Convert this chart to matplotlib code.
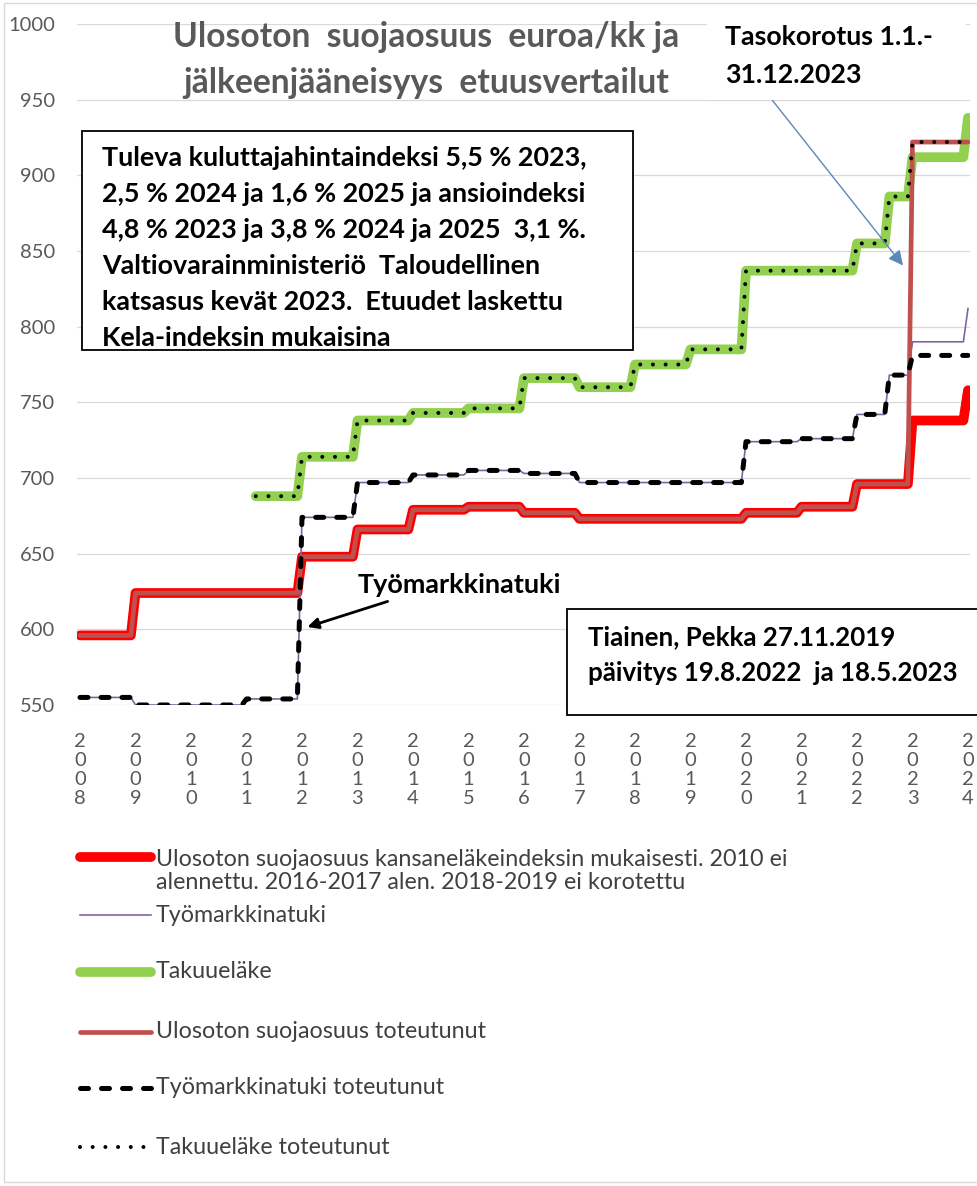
import matplotlib
matplotlib.use("Agg")
import matplotlib.pyplot as plt
from matplotlib.lines import Line2D
from matplotlib.patches import Rectangle

plt.rcParams['font.family'] = ['Lato', 'DejaVu Sans']

W, H = 978, 1186

# ---------------- data ----------------
years = list(range(2008, 2025))
x_ticklabels = ["\n".join(str(y)) for y in years]
y_ticks = [550, 600, 650, 700, 750, 800, 850, 900, 950, 1000]

# step series: dates where a new level starts, and the level (euro / month)
suoja_index_dates = [2008, 2009, 2012, 2013, 2014, 2015, 2016, 2017, 2020, 2021, 2022, 2023, 2024]
suoja_index_vals = [596, 624, 648, 666, 679, 681, 677, 673, 677, 681, 696, 738, 758]

suoja_real_dates = [2008, 2009, 2012, 2013, 2014, 2015, 2016, 2017, 2020, 2021, 2022, 2023, 2024]
suoja_real_vals = [596, 624, 648, 666, 679, 681, 677, 673, 677, 681, 696, 922, 922]

tmt_dates = [2008, 2009, 2011, 2012, 2013, 2014, 2015, 2016, 2017, 2020, 2021, 2022, 2022.583, 2023, 2024]
tmt_vals = [555, 550, 554, 674, 697, 702, 705, 703, 697, 724, 726, 742, 768, 790, 812]
tmt_real_vals = [555, 550, 554, 674, 697, 702, 705, 703, 697, 724, 726, 742, 768, 781, 781]

takuu_dates = [2011.167, 2012, 2013, 2014, 2015, 2016, 2017, 2018, 2019, 2020, 2022, 2022.583, 2023, 2024]
takuu_vals = [688, 714, 738, 743, 746, 766, 760, 775, 785, 837, 855, 886, 912, 938]
takuu_real_vals = [688, 714, 738, 743, 746, 766, 760, 775, 785, 837, 855, 886, 922, 922]

labels = [
    "Ulosoton suojaosuus kansaneläkeindeksin mukaisesti. 2010 ei\nalennettu. 2016-2017 alen. 2018-2019 ei korotettu",
    "Työmarkkinatuki",
    "Takuueläke",
    "Ulosoton suojaosuus toteutunut",
    "Työmarkkinatuki toteutunut",
    "Takuueläke toteutunut",
]

title_lines = ["Ulosoton  suojaosuus  euroa/kk ja", "jälkeenjääneisyys  etuusvertailut"]
box1_lines = [
    "Tuleva kuluttajahintaindeksi 5,5 % 2023,",
    "2,5 % 2024 ja 1,6 % 2025 ja ansioindeksi",
    "4,8 % 2023 ja 3,8 % 2024 ja 2025  3,1 %.",
    "Valtiovarainministeriö  Taloudellinen",
    "katsasus kevät 2023.  Etuudet laskettu",
    "Kela-indeksin mukaisina",
]
box2_lines = ["Tiainen, Pekka 27.11.2019", "päivitys 19.8.2022  ja 18.5.2023"]
taso_lines = ["Tasokorotus 1.1.-", "31.12.2023"]
tmt_note = "Työmarkkinatuki"

# ---------------- helpers ----------------
RAMP = 1 / 12  # monthly data: a level change happens between two monthly points


def step_path(dates, vals):
    xs, ys = [dates[0]], [vals[0]]
    for d, v, pv in zip(dates[1:], vals[1:], vals[:-1]):
        xs += [d - RAMP, d]
        ys += [pv, v]
    return xs, ys


def fx(px):
    return px / W


def fy(py):
    return 1 - py / H


fig = plt.figure(figsize=(W / 100, H / 100), dpi=100)
fig.patch.set_facecolor('white')

# chart-area frame
fig.add_artist(Rectangle((fx(4), fy(1182)), fx(1000) - fx(4), fy(3) - fy(1182),
                         transform=fig.transFigure, fill=False, ec='#D9D9D9', lw=1.0, zorder=0))

ax = fig.add_axes([fx(77), fy(705), fx(970) - fx(77), fy(24) - fy(705)])
ax.set_xlim(2007.946, 2024.036)
ax.set_ylim(550, 1000)
for s in ax.spines.values():
    s.set_visible(False)
ax.set_yticks(y_ticks)
ax.set_yticklabels([str(v) for v in y_ticks])
ax.yaxis.grid(True, color='#D9D9D9', lw=0.9)
ax.set_axisbelow(True)
ax.tick_params(axis='y', length=0, pad=16, labelsize=14.5, labelcolor='#595959')
ax.set_xticks(years)
ax.set_xticklabels(x_ticklabels, linespacing=1.15)
ax.tick_params(axis='x', length=0, pad=20, labelsize=14.5, labelcolor='#595959')

styles = [
    dict(color='#FF0000', lw=7.0, solid_capstyle='round', solid_joinstyle='round', zorder=2),
    dict(color='#8064A2', lw=1.2, zorder=3),
    dict(color='#92D050', lw=7.0, solid_capstyle='round', solid_joinstyle='round', zorder=4),
    dict(color='#C0504D', lw=3.4, solid_capstyle='round', solid_joinstyle='round', zorder=5),
    dict(color='black', lw=3.6, linestyle=(0, (1.6, 2.6)), dash_capstyle='round', zorder=6),
    dict(color='black', lw=2.9, linestyle=(0, (0.001, 3.15)), dash_capstyle='round', zorder=7),
]

series = [
    (suoja_index_dates, suoja_index_vals),
    (tmt_dates, tmt_vals),
    (takuu_dates, takuu_vals),
    (suoja_real_dates, suoja_real_vals),
    (tmt_dates, tmt_real_vals),
    (takuu_dates, takuu_real_vals),
]
for (d, v), st, lab in zip(series, styles, labels):
    xs, ys = step_path(d, v)
    ax.plot(xs, ys, label=lab, **st)

# arrows
ax.annotate('', xy=(2022.86, 839), xytext=(2020.38, 954), annotation_clip=False,
            arrowprops=dict(arrowstyle='-|>', color='#5F86B8', lw=1.0, mutation_scale=22), zorder=9)
ax.annotate('', xy=(2012.05, 601), xytext=(2013.59, 619), annotation_clip=False,
            arrowprops=dict(arrowstyle='-|>', color='black', lw=2.0, mutation_scale=16), zorder=9)

# ---------------- text ----------------
renderer = fig.canvas.get_renderer()


def fit(texts, ref, target):
    w = ref.get_window_extent(renderer).width
    fs = ref.get_fontsize() * target / w
    for t in texts:
        t.set_fontsize(fs)


# white background of the "Tasokorotus" box
fig.add_artist(Rectangle((fx(707), fy(100)), fx(966) - fx(707), fy(8) - fy(100),
                         transform=fig.transFigure, fc='white', ec='none', zorder=5))

tt = [fig.text(fx(426), fy(y), s, ha='center', va='center', color='#595959',
               fontsize=20, fontweight='bold', zorder=10)
      for s, y in zip(title_lines, [37, 83])]
fit(tt, tt[0], 507)

# box 1
fig.add_artist(Rectangle((fx(82), fy(350)), fx(633) - fx(82), fy(131) - fy(350),
                         transform=fig.transFigure, fc='white', ec='black', lw=1.3, zorder=8))
b1 = [fig.text(fx(102), fy(y), s, ha='left', va='center', color='black',
               fontsize=18, fontweight='bold', zorder=10)
      for s, y in zip(box1_lines, [158, 194, 230, 266, 302, 338])]
fit(b1, b1[0], 488)

# box 2
fig.add_artist(Rectangle((fx(567), fy(715)), fx(990) - fx(567), fy(609) - fy(715),
                         transform=fig.transFigure, fc='white', ec='black', lw=1.3, zorder=8))
b2 = [fig.text(fx(588), fy(y), s, ha='left', va='center', color='black',
               fontsize=18, fontweight='bold', zorder=10)
      for s, y in zip(box2_lines, [637, 673])]
fit(b2, b2[1], 370)

ts = [fig.text(fx(725), fy(y), s, ha='left', va='center', color='black',
               fontsize=16, fontweight='bold', zorder=10)
      for s, y in zip(taso_lines, [37, 75])]
fit(ts, ts[0], 210)

tm = fig.text(fx(358), fy(585), tmt_note, ha='left', va='center', color='black',
              fontsize=16, fontweight='bold', zorder=10)
fit([tm], tm, 204)

# ---------------- legend (drawn below the plot) ----------------
row_y = [857, 915, 972, 1032, 1088, 1147]
leg_texts = []
for lab, st, y in zip(labels, styles, row_y):
    kw = {k: v for k, v in st.items() if k != 'zorder'}
    fig.add_artist(Line2D([fx(80), fx(151)], [fy(y), fy(y)], transform=fig.transFigure, **kw))
    ty = y + 14 if '\n' in lab else y
    leg_texts.append(fig.text(fx(156), fy(ty), lab, ha='left', va='center', color='#404040',
                              fontsize=15, linespacing=1.12))
probe = fig.text(0, 0, labels[0].split('\n')[0], fontsize=15)
fit(leg_texts + [probe], probe, 630)
probe.remove()

fig.savefig('out.png', dpi=100)
